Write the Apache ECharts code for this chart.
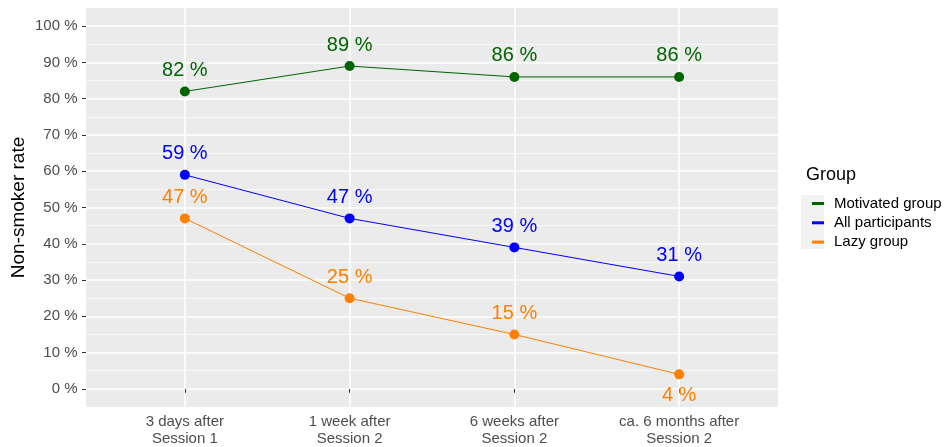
<!DOCTYPE html>
<html>
<head>
<meta charset="utf-8">
<script src="https://cdn.jsdelivr.net/npm/echarts@6/dist/echarts.min.js"></script>
<style>html,body{margin:0;padding:0;background:#fff}#c{width:945px;height:447px}</style>
</head>
<body>
<div id="c"></div>
<script>
const categories = ['3 days after\nSession 1', '1 week after\nSession 2', '6 weeks after\nSession 2', 'ca. 6 months after\nSession 2'];
const motivated = [82, 89, 86, 86];
const allParticipants = [59, 47, 39, 31];
const lazy = [47, 25, 15, 4];
const lazyLabelBelow = [false, false, false, true];
const yTicks = [0, 10, 20, 30, 40, 50, 60, 70, 80, 90, 100];
const yMinor = [5, 15, 25, 35, 45, 55, 65, 75, 85, 95];
const seriesNames = ['Motivated group', 'All participants', 'Lazy group'];
const colors = ['#006400', '#0000FF', '#FF7F00'];

const FONT = 'Liberation Sans, Arial, sans-serif';
const xPos = categories.map((c, i) => i + 1);
const chart = echarts.init(document.getElementById('c'), null, {renderer: 'canvas'});

function mk(name, vals, color, below) {
  return {
    name: name,
    type: 'line',
    data: vals.map((v, i) => ({
      value: [xPos[i], v],
      label: {position: below && below[i] ? 'bottom' : 'top'}
    })),
    symbol: 'circle',
    symbolSize: 10,
    itemStyle: {color: color},
    lineStyle: {color: color, width: 1},
    label: {
      show: true,
      formatter: p => p.value[1] + ' %',
      color: color,
      fontSize: 20,
      fontFamily: FONT,
      distance: 6
    },
    emphasis: {disabled: true},
    z: 3
  };
}

chart.setOption({
  animation: false,
  textStyle: {fontFamily: FONT},
  grid: {left: 86, right: 167, top: 8, bottom: 40, show: true, backgroundColor: '#EBEBEB', borderWidth: 0,
         containLabel: false, outerBoundsMode: 'none'},
  xAxis: {
    type: 'value', min: 0.4, max: 4.6,
    axisLine: {show: false},
    axisTick: {show: true, customValues: xPos, length: 4, lineStyle: {color: '#333333', width: 1}},
    axisLabel: {
      customValues: xPos, color: '#4D4D4D', fontSize: 15, lineHeight: 16.5, margin: 7,
      formatter: v => categories[Math.round(v) - 1] || ''
    },
    splitLine: {show: true, lineStyle: {color: '#FFFFFF', width: 1.6}}
  },
  yAxis: [{
    type: 'value', min: -5, max: 105,
    name: 'Non-smoker rate', nameLocation: 'middle', nameGap: 58, nameMoveOverlap: false,
    nameTextStyle: {color: '#000000', fontSize: 19},
    axisLine: {show: false},
    axisTick: {show: true, customValues: yTicks, length: 4, lineStyle: {color: '#333333', width: 1}},
    axisLabel: {customValues: yTicks, color: '#4D4D4D', fontSize: 15, margin: 8.5, formatter: v => v + ' %'},
    splitLine: {show: true, lineStyle: {color: '#FFFFFF', width: 1.6}}
  }, {
    type: 'value', min: -5, max: 105, position: 'left',
    axisLine: {show: false},
    axisTick: {show: false, customValues: yMinor},
    axisLabel: {show: false, customValues: yMinor},
    splitLine: {show: true, lineStyle: {color: '#FAFAFA', width: 0.8}}
  }],
  legend: {
    orient: 'vertical', left: 807, top: 191,
    itemWidth: 12, itemHeight: 3, itemGap: 4.3,
    icon: 'rect',
    textStyle: {color: '#000000', fontSize: 15, lineHeight: 15, padding: [0, 0, 0, 5]},
    data: seriesNames
  },
  graphic: [
    {type: 'rect', left: 801, top: 195, shape: {width: 23, height: 54}, style: {fill: '#F2F2F2'}, z: -1, silent: true},
    {type: 'text', left: 806, top: 166, style: {text: 'Group', fontSize: 18, fill: '#000000', fontFamily: FONT}}
  ],
  series: [
    mk(seriesNames[0], motivated, colors[0]),
    mk(seriesNames[1], allParticipants, colors[1]),
    mk(seriesNames[2], lazy, colors[2], lazyLabelBelow)
  ]
});
</script>
</body>
</html>
